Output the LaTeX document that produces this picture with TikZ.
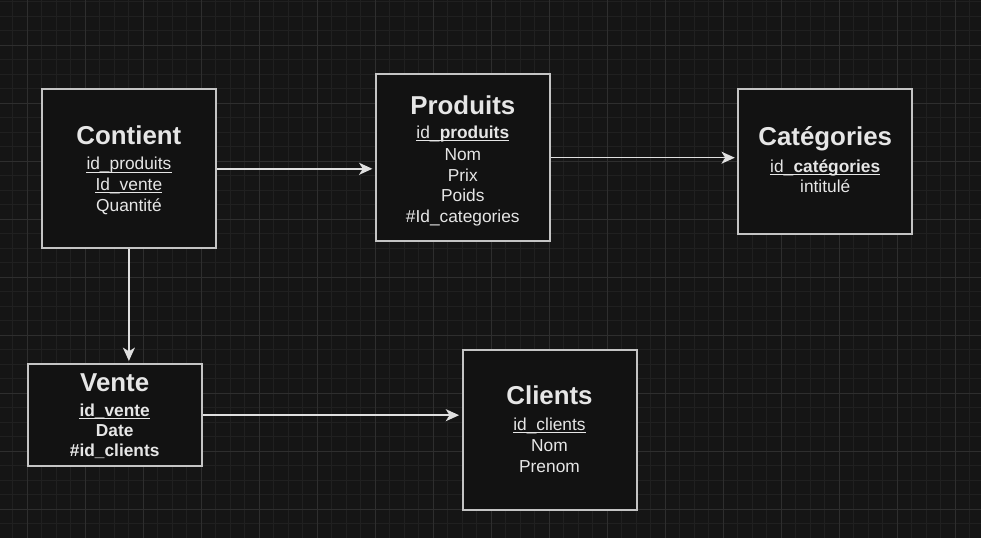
\documentclass[tikz,border=0pt]{standalone}
\usepackage{fontspec}
\setmainfont{Liberation Sans}
\usetikzlibrary{arrows.meta}
\definecolor{bg}{HTML}{151515}
\definecolor{gridminor}{HTML}{202020}
\definecolor{gridmajor}{HTML}{2E2E2E}
\definecolor{boxfill}{HTML}{121212}
\definecolor{boxline}{HTML}{C4C4C4}
\definecolor{txt}{HTML}{E6E6E6}
\definecolor{arrowc}{HTML}{E0E0E0}
\begin{document}
\begin{tikzpicture}[x=0.75pt,y=-0.75pt,
  entity/.style={draw=boxline, fill=boxfill, line width=1.5pt, minimum width=130.5pt, inner sep=0pt},
  etitle/.style={anchor=base, text=txt, inner sep=0pt, font=\fontsize{19.4pt}{23pt}\selectfont\bfseries},
  field/.style={anchor=base, text=txt, inner sep=0pt, font=\fontsize{13pt}{15.6pt}\selectfont},
  bfield/.style={anchor=base, text=txt, inner sep=0pt, font=\fontsize{13pt}{15.6pt}\selectfont\bfseries},
  ul/.style={draw=txt, line width=0.8pt},
  minorline/.style={draw=gridminor, line width=0.75pt},
  majorline/.style={draw=gridmajor, line width=0.75pt},
  link/.style={draw=arrowc, line width=1.1pt, -{Stealth[length=10pt,width=9pt,inset=2.8pt]}, shorten >=1.8pt}]
% background and grid
\fill[bg] (0,0) rectangle (981,538);
\useasboundingbox (0,0) rectangle (981,538);
\foreach \i in {0,...,66} \draw[minorline] ({12.8+14.5*\i},0) -- ({12.8+14.5*\i},538);
\foreach \i in {0,...,36} \draw[minorline] (0,{1.8+14.5*\i}) -- (981,{1.8+14.5*\i});
\foreach \i in {0,...,16} \draw[majorline] ({27.3+58*\i},0) -- ({27.3+58*\i},538);
\foreach \i in {0,...,8} \draw[majorline] (0,{45.3+58*\i}) -- (981,{45.3+58*\i});
% entities
\node[entity, minimum height=119.25pt] (contient) at (128.9,168.8) {};
\node[entity, minimum height=125pt] (produits) at (462.8,157.7) {};
\node[entity, minimum height=108.75pt] (categories) at (825.2,161.5) {};
\node[entity, minimum height=76.3pt] (vente) at (114.7,415.2) {};
\node[entity, minimum height=120pt] (clients) at (549.5,430) {};
% connectors
\draw[link] (contient.east) -- (contient.east -| produits.west);
\draw[link] (produits.east) -- (produits.east -| categories.west);
\draw[link] (contient.south) -- (contient.south |- vente.north);
\draw[link] (vente.east) -- (vente.east -| clients.west);
% Contient
\node[etitle] (contientT) at (128.9,144.3) {Contient};
\node[field] (contient1) at (128.9,170) {id\_produits};
\node[field] (contient2) at (128.9,190.7) {Id\_vente};
\node[field] (contient3) at (128.9,211.4) {Quantité};
\draw[ul] ([yshift=-1.6pt]contient1.base west) -- ([yshift=-1.6pt]contient1.base east);
\draw[ul] ([yshift=-1.6pt]contient2.base west) -- ([yshift=-1.6pt]contient2.base east);
% Produits
\node[etitle] (produitsT) at (462.8,114.7) {Produits};
\node[field] (produits1) at (462.8,138.3) {id\_\textbf{produits}};
\node[field] (produits2) at (462.8,160.7) {Nom};
\node[field] (produits3) at (462.8,181.3) {Prix};
\node[field] (produits4) at (462.8,202) {Poids};
\node[field] (produits5) at (462.8,222.7) {\#Id\_categories};
\draw[ul] ([yshift=-1.6pt]produits1.base west) -- ([yshift=-1.6pt]produits1.base east);
% Categories
\node[etitle] (categoriesT) at (825.2,146) {Catégories};
\node[field] (categories1) at (825.2,172.7) {id\_\textbf{catégories}};
\node[field] (categories2) at (825.2,192.7) {intitulé};
\draw[ul] ([yshift=-1.6pt]categories1.base west) -- ([yshift=-1.6pt]categories1.base east);
% Vente
\node[etitle] (venteT) at (114.7,391) {Vente};
\node[bfield] (vente1) at (114.7,416) {id\_vente};
\node[bfield] (vente2) at (114.7,436.7) {Date};
\node[bfield] (vente3) at (114.7,456.7) {\#id\_clients};
\draw[ul] ([yshift=-1.6pt]vente1.base west) -- ([yshift=-1.6pt]vente1.base east);
% Clients
\node[etitle] (clientsT) at (549.5,404.3) {Clients};
\node[field] (clients1) at (549.5,430.7) {id\_clients};
\node[field] (clients2) at (549.5,451) {Nom};
\node[field] (clients3) at (549.5,472.7) {Prenom};
\draw[ul] ([yshift=-1.6pt]clients1.base west) -- ([yshift=-1.6pt]clients1.base east);
\end{tikzpicture}
\end{document}
